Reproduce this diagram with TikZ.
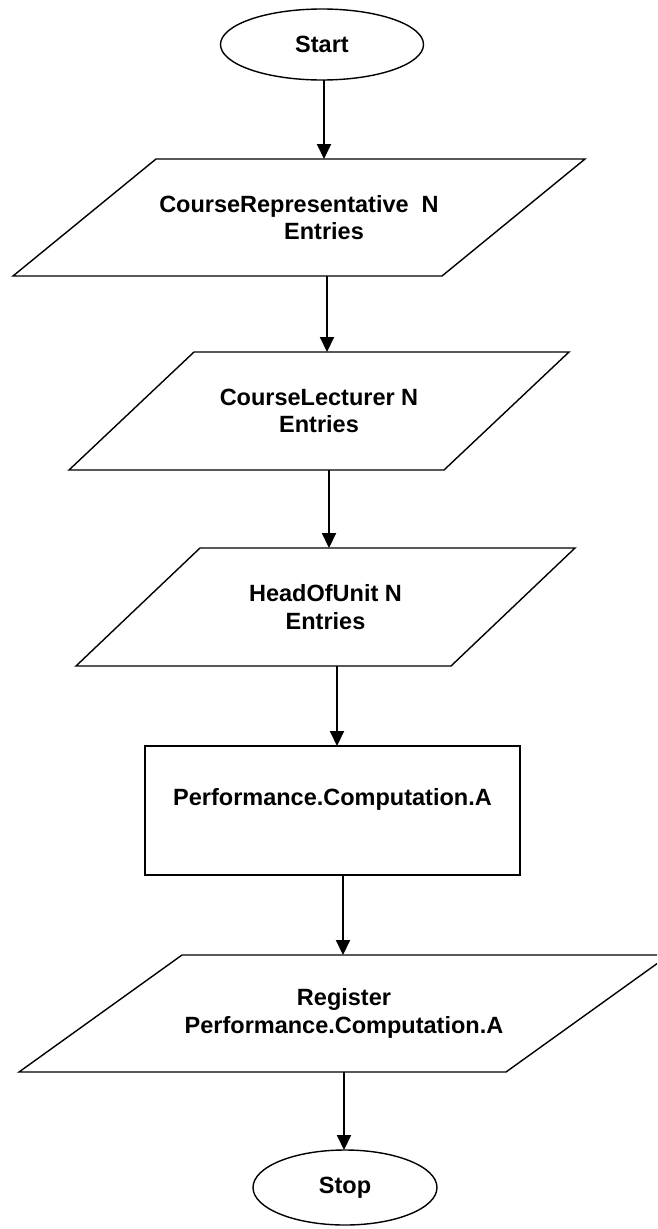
\documentclass[tikz,border=0pt]{standalone}
\usepackage{fontspec}
\setmainfont{Liberation Sans}
\usetikzlibrary{shapes.geometric,arrows.meta}

% outline of an input/output box: top edge pushed right, bottom edge pushed left
\newcommand\ioslant[2]{%
  \draw[outline] ([xshift=#2]#1.north west) -- ([xshift=#2]#1.north east)
    -- ([xshift=-#2]#1.south east) -- ([xshift=-#2]#1.south west) -- cycle;}

\begin{document}
\begin{tikzpicture}[x=1pt,y=-1pt,
  every node/.style={font=\fontsize{23.5}{27.5}\selectfont\bfseries,
    align=center, inner sep=0pt, outer sep=0pt},
  outline/.style={line width=1.4pt, line join=miter},
  terminal/.style={ellipse, draw, outline},
  iobox/.style={rectangle},
  procbox/.style={rectangle, draw, outline},
  arr/.style={line width=2pt, -{Triangle[length=15pt,width=14pt]}}]

\useasboundingbox (0,0) rectangle (657,1229);
\fill[white] (0,0) rectangle (657,1229);
\clip (0,0) rectangle (657,1229);

% terminals
\node[terminal, minimum width=203pt, minimum height=71pt] (start) at (322,44.5) {Start};
\node[terminal, minimum width=184pt, minimum height=75pt] (stop) at (345,1187.5) {Stop};

% input/output boxes
\node[iobox, minimum width=429pt, minimum height=117pt] (p1) at (299,217.5)
  {CourseRepresentative\ \ N\\\hspace*{50pt}Entries};
\ioslant{p1}{71.5pt}

\node[iobox, minimum width=375pt, minimum height=118pt] (p2) at (319,411)
  {CourseLecturer N\\Entries};
\ioslant{p2}{62.5pt}

\node[iobox, minimum width=375pt, minimum height=118pt] (p3) at (325.5,607)
  {HeadOfUnit N\\Entries};
\ioslant{p3}{62pt}

% process box
\node[procbox, minimum width=375pt, minimum height=129pt] (comp) at (332.5,810.5)
  {Performance.Computation.A\\\mbox{}};

\node[iobox, minimum width=487pt, minimum height=117pt] (p5) at (344,1013.5)
  {Register\\Performance.Computation.A};
\ioslant{p5}{81.5pt}

% flow
\draw[arr] ([xshift=2pt]start.south) -- ([xshift=2pt]start.south |- p1.north);
\draw[arr] ([xshift=28pt]p1.south) -- ([xshift=28pt]p1.south |- p2.north);
\draw[arr] ([xshift=10pt]p2.south) -- ([xshift=10pt]p2.south |- p3.north);
\draw[arr] ([xshift=11.5pt]p3.south) -- ([xshift=11.5pt]p3.south |- comp.north);
\draw[arr] ([xshift=10.5pt]comp.south) -- ([xshift=10.5pt]comp.south |- p5.north);
\draw[arr] (p5.south) -- (p5.south |- stop.north);
\end{tikzpicture}
\end{document}
